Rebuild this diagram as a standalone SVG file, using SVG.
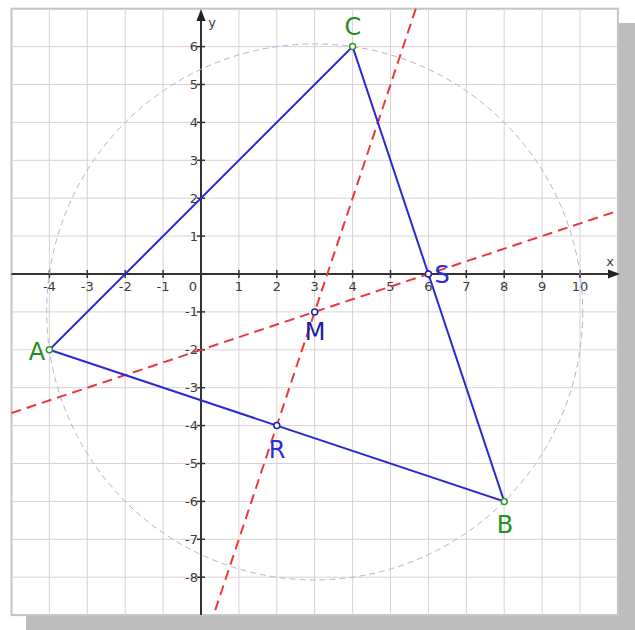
<svg xmlns="http://www.w3.org/2000/svg" width="635" height="630" viewBox="0 0 635 630">
<style>
.grid line{stroke:#ddd0d5;stroke-width:1}
.axis{stroke:#333;stroke-width:2;fill:none}
.tick{stroke:#333;stroke-width:1.5}
.tl{font-family:"DejaVu Sans",Verdana,sans-serif;font-size:13px;fill:#3a3a3a}
.tlx{text-anchor:middle}
.tly{text-anchor:end}
.tri{stroke:#2a2ad2;stroke-width:2;fill:none}
.bis{stroke:#e83a3a;stroke-width:2;stroke-dasharray:10 6;fill:none}
.circ{stroke:#b4b4dc;stroke-width:1;stroke-dasharray:6 4;fill:none}
.pg{fill:#fff;stroke:#2a9a2a;stroke-width:1.5}
.pb{fill:#fff;stroke:#2020b0;stroke-width:1.5}
.lab{font-family:"DejaVu Sans",Verdana,sans-serif;font-size:24px;text-anchor:middle}
.green{fill:#1f8f1f}
.blue{fill:#2230e0}
.navy{fill:#1c1c9c}
</style>
<rect x="26" y="23" width="609" height="607" fill="#bdbdbd"/>
<rect x="11.5" y="8.7" width="606.4" height="606.4" fill="#fff" stroke="#c4c4c4" stroke-width="2"/>
<g class="grid">
<line x1="49.4" y1="8.7" x2="49.4" y2="615.1"/>
<line x1="87.3" y1="8.7" x2="87.3" y2="615.1"/>
<line x1="125.2" y1="8.7" x2="125.2" y2="615.1"/>
<line x1="163.1" y1="8.7" x2="163.1" y2="615.1"/>
<line x1="238.9" y1="8.7" x2="238.9" y2="615.1"/>
<line x1="276.8" y1="8.7" x2="276.8" y2="615.1"/>
<line x1="314.7" y1="8.7" x2="314.7" y2="615.1"/>
<line x1="352.6" y1="8.7" x2="352.6" y2="615.1"/>
<line x1="390.5" y1="8.7" x2="390.5" y2="615.1"/>
<line x1="428.4" y1="8.7" x2="428.4" y2="615.1"/>
<line x1="466.3" y1="8.7" x2="466.3" y2="615.1"/>
<line x1="504.2" y1="8.7" x2="504.2" y2="615.1"/>
<line x1="542.1" y1="8.7" x2="542.1" y2="615.1"/>
<line x1="580" y1="8.7" x2="580" y2="615.1"/>
<line x1="11.5" y1="46.6" x2="617.9" y2="46.6"/>
<line x1="11.5" y1="84.5" x2="617.9" y2="84.5"/>
<line x1="11.5" y1="122.4" x2="617.9" y2="122.4"/>
<line x1="11.5" y1="160.3" x2="617.9" y2="160.3"/>
<line x1="11.5" y1="198.2" x2="617.9" y2="198.2"/>
<line x1="11.5" y1="236.1" x2="617.9" y2="236.1"/>
<line x1="11.5" y1="311.9" x2="617.9" y2="311.9"/>
<line x1="11.5" y1="349.8" x2="617.9" y2="349.8"/>
<line x1="11.5" y1="387.7" x2="617.9" y2="387.7"/>
<line x1="11.5" y1="425.6" x2="617.9" y2="425.6"/>
<line x1="11.5" y1="463.5" x2="617.9" y2="463.5"/>
<line x1="11.5" y1="501.4" x2="617.9" y2="501.4"/>
<line x1="11.5" y1="539.3" x2="617.9" y2="539.3"/>
<line x1="11.5" y1="577.2" x2="617.9" y2="577.2"/>
</g>
<g id="axes">
<line class="axis" x1="11.5" y1="274" x2="611" y2="274"/>
<line class="axis" x1="201" y1="615.1" x2="201" y2="17"/>
<polygon points="620,274 608,269.5 608,278.5" fill="#222"/>
<polygon points="201,9 196.5,21 205.5,21" fill="#222"/>
<g class="tick">
<line x1="49.4" y1="270" x2="49.4" y2="278"/><line x1="87.3" y1="270" x2="87.3" y2="278"/><line x1="125.2" y1="270" x2="125.2" y2="278"/><line x1="163.1" y1="270" x2="163.1" y2="278"/><line x1="238.9" y1="270" x2="238.9" y2="278"/><line x1="276.8" y1="270" x2="276.8" y2="278"/><line x1="314.7" y1="270" x2="314.7" y2="278"/><line x1="352.6" y1="270" x2="352.6" y2="278"/><line x1="390.5" y1="270" x2="390.5" y2="278"/><line x1="428.4" y1="270" x2="428.4" y2="278"/><line x1="466.3" y1="270" x2="466.3" y2="278"/><line x1="504.2" y1="270" x2="504.2" y2="278"/><line x1="542.1" y1="270" x2="542.1" y2="278"/><line x1="580" y1="270" x2="580" y2="278"/>
<line x1="197" y1="46.6" x2="205" y2="46.6"/><line x1="197" y1="84.5" x2="205" y2="84.5"/><line x1="197" y1="122.4" x2="205" y2="122.4"/><line x1="197" y1="160.3" x2="205" y2="160.3"/><line x1="197" y1="198.2" x2="205" y2="198.2"/><line x1="197" y1="236.1" x2="205" y2="236.1"/><line x1="197" y1="311.9" x2="205" y2="311.9"/><line x1="197" y1="349.8" x2="205" y2="349.8"/><line x1="197" y1="387.7" x2="205" y2="387.7"/><line x1="197" y1="425.6" x2="205" y2="425.6"/><line x1="197" y1="463.5" x2="205" y2="463.5"/><line x1="197" y1="501.4" x2="205" y2="501.4"/><line x1="197" y1="539.3" x2="205" y2="539.3"/><line x1="197" y1="577.2" x2="205" y2="577.2"/>
</g>
<g class="tl tlx">
<text x="49.4" y="291">-4</text><text x="87.3" y="291">-3</text><text x="125.2" y="291">-2</text><text x="163.1" y="291">-1</text><text x="193" y="291">0</text><text x="238.9" y="291">1</text><text x="276.8" y="291">2</text><text x="314.7" y="291">3</text><text x="352.6" y="291">4</text><text x="390.5" y="291">5</text><text x="428.4" y="291">6</text><text x="466.3" y="291">7</text><text x="504.2" y="291">8</text><text x="542.1" y="291">9</text><text x="580" y="291">10</text>
<text x="610" y="266">x</text><text x="212" y="27">y</text>
</g>
<g class="tl tly">
<text x="198" y="51">6</text><text x="198" y="89">5</text><text x="198" y="127">4</text><text x="198" y="165">3</text><text x="198" y="203">2</text><text x="198" y="241">1</text><text x="198" y="316">-1</text><text x="198" y="354">-2</text><text x="198" y="392">-3</text><text x="198" y="430">-4</text><text x="198" y="468">-5</text><text x="198" y="506">-6</text><text x="198" y="544">-7</text><text x="198" y="582">-8</text>
</g>
</g>
<g id="circumcircle">
<circle class="circ" cx="314.7" cy="311.9" r="268"/>
</g>
<g id="connectors">
<line class="bis" x1="11.5" y1="413" x2="617.9" y2="210.8"/>
<line class="bis" x1="415.8" y1="8.7" x2="213.6" y2="615.1"/>
<polygon class="tri" points="49.4,349.8 504.2,501.4 352.6,46.6"/>
</g>
<g id="A"><circle class="pg" cx="49.4" cy="349.8" r="3"/><text class="lab green" x="37" y="360">A</text></g>
<g id="B"><circle class="pg" cx="504.2" cy="501.4" r="3"/><text class="lab green" x="505" y="533">B</text></g>
<g id="C"><circle class="pg" cx="352.6" cy="46.6" r="3"/><text class="lab green" x="353" y="35">C</text></g>
<g id="M"><circle class="pb" cx="314.7" cy="311.9" r="3"/><text class="lab navy" x="315" y="340">M</text></g>
<g id="R"><circle class="pb" cx="276.8" cy="425.6" r="3"/><text class="lab blue" x="277" y="458">R</text></g>
<g id="S"><circle class="pb" cx="428.4" cy="274" r="3"/><text class="lab blue" x="442" y="283">S</text></g>
</svg>
